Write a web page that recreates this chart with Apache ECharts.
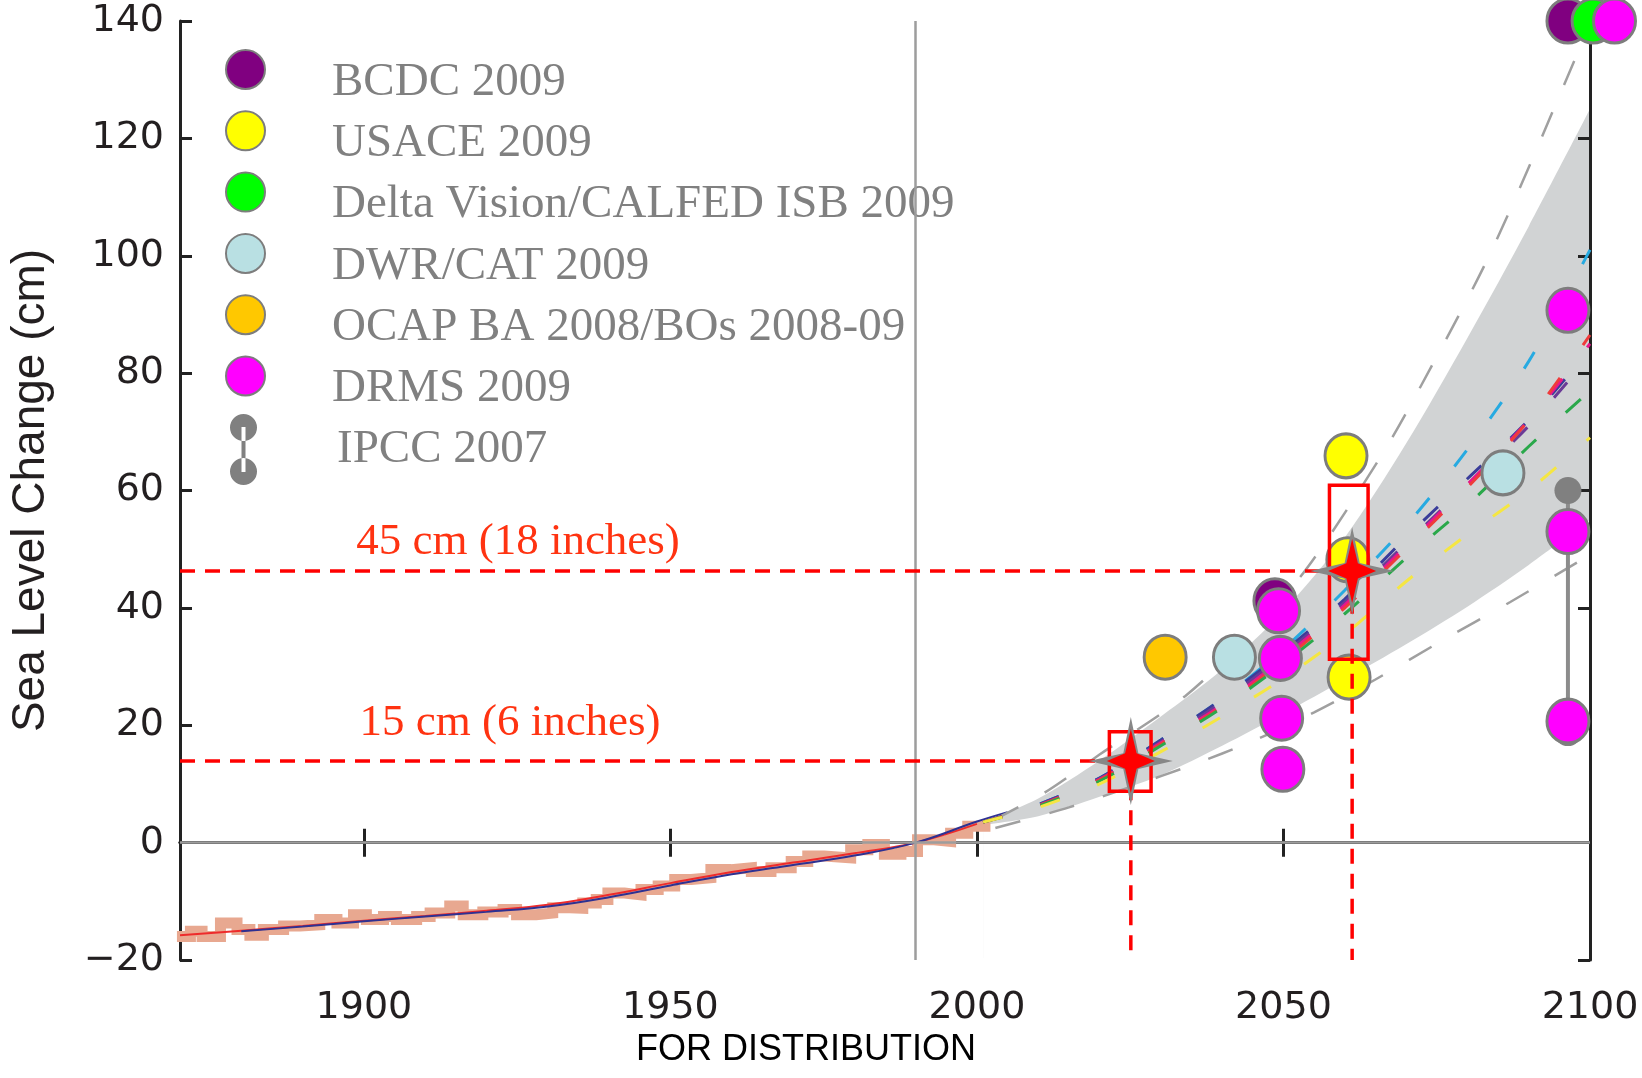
<!DOCTYPE html>
<html>
<head>
<meta charset="utf-8">
<title>Sea Level Change</title>
<script src="https://cdn.jsdelivr.net/npm/echarts@6/dist/echarts.min.js"></script>
<style>
  html, body { margin: 0; padding: 0; background: #fff; }
  #chart { width: 1642px; height: 1078px; }
</style>
</head>
<body>
<div id="chart"></div>
<script>
// axis ranges
const xMin = 1870
const xMax = 2100
const yMin = -20
const yMax = 140
const xTicks = [1900, 1950, 2000, 2050, 2100]
const refYear = 1990

// observed record, yearly blocks (start year -> value)
const histYears = [1869.5, 1871.7, 1873.6, 1876.6, 1879.3, 1881.4, 1883.6, 1886.9, 1889.6, 1892.8,
  1895.6, 1898.3, 1900.4, 1903.2, 1905.3, 1908.6, 1910.8, 1914, 1916.2, 1919.4,
  1922.7, 1924.9, 1928.1, 1930.8, 1933.6, 1935.7, 1937.9, 1939.8, 1942.5, 1945.2,
  1948, 1950.7, 1953.4, 1956.6, 1959.9, 1963.2, 1966.4, 1969.7, 1972.4, 1975.1,
  1979.4, 1982.2, 1984.9, 1987.6, 1990.3, 1993, 1995.7, 1998.5, 2002.2]
const histValues = [-16.0, -15.1, -16.0, -13.7, -14.8, -15.8, -14.8, -14.2, -14.0, -13.1,
  -13.7, -12.3, -13.1, -12.6, -13.1, -12.6, -12.0, -10.8, -12.3, -11.8,
  -11.4, -12.3, -12.0, -11.1, -11.2, -10.3, -9.7, -8.6, -8.9, -8.0,
  -7.4, -6.3, -6.0, -4.6, -4.3, -4.9, -4.3, -3.2, -2.3, -2.6,
  -1.2, -0.3, -2.0, -1.5, 0.5, 0.2, 1.6, 2.8, 2.8]

// smoothed fits of the record
const redYears = [1870, 1880, 1890, 1900, 1910, 1920, 1930, 1940, 1950, 1960, 1970, 1980, 1990, 2000]
const redValues = [-15.8, -15.0, -14.2, -13.3, -12.5, -11.6, -10.6, -8.9, -6.9, -5.0, -3.4, -1.8, 0, 3.2]
const blueYears = [1880, 1890, 1900, 1910, 1920, 1930, 1940, 1950, 1960, 1970, 1980, 1990, 2000, 2005]
const blueValues = [-15.1, -14.3, -13.4, -12.6, -11.8, -10.9, -9.3, -7.3, -5.4, -3.8, -2.2, 0, 3.6, 5.2]

// projections
const projYears = [2001, 2010, 2020, 2030, 2040, 2050, 2060, 2070, 2080, 2090, 2100]
const bandUpper = [3.5, 7.5, 14, 21.5, 29.5, 39.5, 52, 68, 86, 105, 125]
const bandLower = [3, 4.5, 7.8, 11.5, 16.5, 22, 27.8, 33.8, 40.2, 47.3, 55]

const upperDashYears = [2003, 2011, 2020, 2034, 2045, 2054, 2066, 2072, 2084, 2099, 2100]
const upperDashValues = [4, 8.5, 15, 25, 36, 47, 66, 77, 101, 137, 139.5]
const lowerDashYears = [2003, 2015, 2025, 2035, 2045, 2055, 2065, 2076, 2087, 2098]
const lowerDashValues = [2.5, 6, 9.5, 13.2, 17.3, 22.2, 27.8, 34.5, 41, 47.8]

const scenLightBlue = [3.5, 6.5, 11, 17.5, 24.5, 33, 43, 54, 67, 82, 101]
const scenNavy = [3.5, 6.5, 11, 17.5, 24.5, 32.5, 41.5, 52, 62, 72, 84]
const scenPurple = [3.5, 6.4, 10.9, 17.2, 24, 32, 41, 51, 61, 71, 83]
const scenMagenta = [3.5, 6.3, 10.8, 17, 23.5, 31.5, 40.5, 50.5, 61, 72, 85]
const scenRed = [3.5, 6.3, 10.7, 16.8, 23.2, 31, 40, 50, 60.5, 72, 86.5]
const scenGreen = [3.5, 6.2, 10.5, 16.5, 23, 30.5, 39, 48.5, 57.5, 67.5, 77]
const scenYellow = [3.5, 6, 10, 15.5, 21.5, 28, 35.5, 44.5, 52.5, 60, 69]

// agency estimates [year, cm]
const bcdc = [[2048.6, 41.2], [2096.4, 140]]
const usace = [[2060.2, 65.9], [2060.5, 48.2], [2060.7, 28.2]]
const deltaVision = [[2100.5, 140]]
const dwr = [[2042, 31.6], [2085.8, 63]]
const ocap = [[2030.7, 31.6]]
const drms = [[2049.2, 39.5], [2049.5, 31.4], [2049.7, 21.2], [2049.9, 12.5],
  [2096.4, 90.7], [2096.4, 53], [2096.4, 20.7], [2104, 140]]
const ipccYear = 2096.4
const ipccRange = [60, 18.75]

// highlighted levels
const starYears = [2025.1, 2061.2]
const starLevels = [13.9, 46.3]
const boxX0 = [2021.6, 2057.5]
const boxX1 = [2028.4, 2063.8]
const boxY0 = [8.75, 31.25]
const boxY1 = [18.9, 60.9]

const pairs = (xs, ys) => xs.map((x, i) => [x, ys[i]])

const ipccIcon = 'path://M0,13.5a13.5,13.5 0 1,0 27,0a13.5,13.5 0 1,0 -27,0zM0,57.5a13.5,13.5 0 1,0 27,0a13.5,13.5 0 1,0 -27,0zM11.5,13h4v45h-4z'
const starBack = 'path://M50,0 L59,41 L100,50 L59,59 L50,100 L41,59 L0,50 L41,41 Z'
const starFront = 'path://M50,0 L62,38 L100,50 L62,62 L50,100 L38,62 L0,50 L38,38 Z'

const tickFont = 'DejaVu Sans'
const serif = 'Liberation Serif'
const dotBorder = '#7d7d7d'
const axisColor = '#222'
const areaBase = yMin + 0.35

const scenario = (name, values, color) => ({
  name,
  type: 'line',
  data: pairs(projYears, values),
  smooth: 0.3,
  symbol: 'none',
  lineStyle: { color, width: 3, type: [20, 40] },
  silent: true
})

const dots = (name, data, color) => ({
  name,
  type: 'scatter',
  z: 4,
  data,
  clip: false,
  symbol: 'circle',
  symbolSize: [42, 44],
  itemStyle: { color, borderColor: dotBorder, borderWidth: 3, opacity: 1 }
})

const refDash = i => ({
  type: 'line',
  z: 5,
  data: [[xMin, starLevels[i]], [starYears[i], starLevels[i]], [starYears[i], yMin]],
  symbol: 'none',
  lineStyle: { color: '#ff0000', width: 3.5, type: [15, 10] },
  silent: true
})

const frameAxis = (extra) => Object.assign({
  type: 'value',
  z: 3,
  axisLine: { show: true, lineStyle: { color: axisColor, width: 3 } },
  splitLine: { show: false }
}, extra)

const legendText = name => '{t|' + name + '}'

const chart = echarts.init(document.getElementById('chart'))

chart.setOption({
  animation: false,
  backgroundColor: '#ffffff',
  grid: { left: 178, right: 52, top: 21, bottom: 118 },
  xAxis: [
    frameAxis({
      min: xMin,
      max: xMax,
      position: 'bottom',
      axisTick: { show: true, inside: true, length: 14, customValues: xTicks, lineStyle: { color: axisColor, width: 3 } },
      axisLabel: {
        customValues: xTicks, fontSize: 38, fontFamily: tickFont, color: '#231f20', margin: 29,
        formatter: v => String(v)
      }
    }),
    frameAxis({
      min: xMin,
      max: xMax,
      position: 'top',
      axisTick: { show: true, inside: true, length: 14, customValues: xTicks, lineStyle: { color: axisColor, width: 3 } },
      axisLabel: { show: false }
    })
  ],
  yAxis: [
    frameAxis({
      min: yMin,
      max: yMax,
      interval: 20,
      position: 'left',
      name: 'Sea Level Change (cm)',
      nameLocation: 'middle',
      nameGap: 126,
      nameTextStyle: { fontSize: 46, fontFamily: 'Liberation Sans', color: '#231f20' },
      axisTick: { show: true, inside: true, length: 12, lineStyle: { color: axisColor, width: 3 } },
      axisLabel: {
        fontSize: 38,
        fontFamily: tickFont,
        color: '#231f20',
        margin: 16,
        formatter: v => String(v).replace('-', '\u2212')
      }
    }),
    frameAxis({
      min: yMin,
      max: yMax,
      interval: 20,
      position: 'right',
      axisTick: { show: true, inside: true, length: 12, lineStyle: { color: axisColor, width: 3 } },
      axisLabel: { show: false }
    })
  ],
  legend: [
    {
      data: ['BCDC 2009', 'USACE 2009', 'Delta Vision/CALFED ISB 2009', 'DWR/CAT 2009',
        'OCAP BA 2008/BOs 2008-09', 'DRMS 2009'].map(name => ({ name, icon: 'circle' })),
      orient: 'vertical',
      left: 220,
      top: 44,
      itemWidth: 39,
      itemHeight: 39,
      itemGap: 4.3,
      selectedMode: false,
      formatter: legendText,
      textStyle: {
        padding: [0, 0, 0, 62],
        rich: { t: { fontFamily: serif, fontSize: 47, color: '#808080', padding: [26, 0, 0, 0] } }
      }
    },
    {
      data: [{ name: 'IPCC 2007', icon: ipccIcon }],
      orient: 'vertical',
      left: 225,
      top: 409,
      itemWidth: 27,
      itemHeight: 71,
      selectedMode: false,
      textStyle: { fontFamily: serif, fontSize: 47, color: '#808080', padding: [4, 0, 0, 75] }
    }
  ],
  graphic: [
    {
      type: 'text', x: 518, y: 542, silent: true,
      style: { text: '45 cm (18 inches)', fill: '#ff3311', font: '45px "Liberation Serif"', align: 'center', verticalAlign: 'middle' }
    },
    {
      type: 'text', x: 510, y: 723, silent: true,
      style: { text: '15 cm (6 inches)', fill: '#ff3311', font: '45px "Liberation Serif"', align: 'center', verticalAlign: 'middle' }
    },
    {
      type: 'text', x: 806, y: 1050, silent: true,
      style: { text: 'FOR DISTRIBUTION', fill: '#000', font: '36px "Liberation Sans"', align: 'center', verticalAlign: 'middle' }
    }
  ],
  series: [
    {
      // projection spread: grey down to the upper edge, blanked below the lower edge
      type: 'line',
      data: pairs(projYears, bandUpper),
      smooth: 0.3,
      symbol: 'none',
      lineStyle: { opacity: 0 },
      areaStyle: { color: '#d1d3d4', opacity: 1, origin: areaBase },
      silent: true
    },
    {
      type: 'line',
      data: pairs(projYears, bandLower),
      smooth: 0.3,
      symbol: 'none',
      lineStyle: { opacity: 0 },
      areaStyle: { color: '#ffffff', opacity: 1, origin: areaBase },
      silent: true
    },
    {
      // reference lines at 1990 and zero
      type: 'line',
      data: [],
      markLine: {
        silent: true,
        symbol: ['none', 'none'],
        label: { show: false },
        lineStyle: { color: '#9d9d9d', width: 2.5, type: 'solid' },
        data: [{ xAxis: refYear }, { yAxis: 0 }]
      }
    },
    {
      type: 'line',
      data: pairs(histYears, histValues),
      step: 'end',
      symbol: 'none',
      lineStyle: { color: '#e8a890', width: 11, cap: 'butt', join: 'miter' },
      silent: true
    },
    {
      type: 'line',
      data: pairs(redYears, redValues),
      smooth: 0.4,
      symbol: 'none',
      lineStyle: { color: '#ee2b2b', width: 2 },
      silent: true
    },
    {
      type: 'line',
      data: pairs(blueYears, blueValues),
      smooth: 0.4,
      symbol: 'none',
      lineStyle: { color: '#2e3192', width: 2 },
      silent: true
    },
    {
      type: 'line',
      data: pairs(upperDashYears, upperDashValues),
      smooth: 0.3,
      symbol: 'none',
      lineStyle: { color: '#a0a0a0', width: 2.5, type: [26, 30] },
      silent: true
    },
    {
      type: 'line',
      data: pairs(lowerDashYears, lowerDashValues),
      smooth: 0.3,
      symbol: 'none',
      lineStyle: { color: '#a0a0a0', width: 2.5, type: [26, 30] },
      silent: true
    },
    scenario('s-lightblue', scenLightBlue, '#27aae1'),
    scenario('s-navy', scenNavy, '#3a3d9a'),
    scenario('s-purple', scenPurple, '#6b3a96'),
    scenario('s-magenta', scenMagenta, '#e8168a'),
    scenario('s-red', scenRed, '#ef3b3b'),
    scenario('s-green', scenGreen, '#2aa84a'),
    scenario('s-yellow', scenYellow, '#f5e642'),
    dots('BCDC 2009', bcdc, '#800080'),
    dots('USACE 2009', usace, '#ffff00'),
    dots('Delta Vision/CALFED ISB 2009', deltaVision, '#00ff00'),
    dots('DWR/CAT 2009', dwr, '#b9e0e3'),
    dots('OCAP BA 2008/BOs 2008-09', ocap, '#ffc800'),
    {
      name: 'IPCC 2007',
      type: 'line',
      z: 4,
      data: ipccRange.map(v => [ipccYear, v]),
      symbol: 'circle',
      symbolSize: 27,
      itemStyle: { color: '#808080' },
      lineStyle: { color: '#8c8c8c', width: 4 },
      silent: true
    },
    dots('DRMS 2009', drms, '#ff00ff'),
    refDash(0),
    refDash(1),
    {
      type: 'scatter',
      z: 5,
      data: pairs(starYears, starLevels),
      symbol: starBack,
      symbolSize: [84, 88],
      itemStyle: { color: '#878787', opacity: 1 },
      silent: true
    },
    {
      type: 'scatter',
      z: 5,
      data: pairs(starYears, starLevels),
      symbol: starFront,
      symbolSize: [48, 64],
      itemStyle: { color: '#ff0000', opacity: 1 },
      silent: true
    },
    {
      // red frames round the highlighted years
      type: 'custom',
      z: 5,
      silent: true,
      data: boxX0.map((x, i) => [x, boxY0[i], boxX1[i], boxY1[i]]),
      encode: { x: [0, 2], y: [1, 3] },
      renderItem: (params, api) => {
        const p0 = api.coord([api.value(0), api.value(3)])
        const p1 = api.coord([api.value(2), api.value(1)])
        return {
          type: 'rect',
          shape: { x: p0[0], y: p0[1], width: p1[0] - p0[0], height: p1[1] - p0[1] },
          style: { fill: 'rgba(0,0,0,0)', stroke: '#ff0000', lineWidth: 3.5 }
        }
      }
    }
  ]
})
</script>
</body>
</html>
